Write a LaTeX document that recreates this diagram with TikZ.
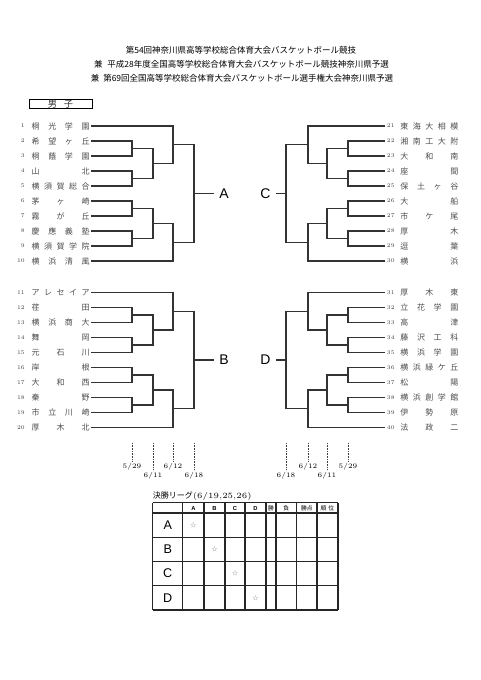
\documentclass[tikz,border=0pt]{standalone}
\usepackage{fontspec}
\usepackage{tikz}
\usetikzlibrary{calc, positioning}
\newfontfamily\jp{Noto Sans CJK JP}
\newfontfamily\arial{Liberation Sans}
\tikzstyle{bracket}=[line width=0.65pt, black!80]
\tikzstyle{teamL}=[anchor=east, inner xsep=0.5pt, inner ysep=0pt, text=black!70, font=\jp\fontsize{4}{4}\selectfont]
\tikzstyle{teamR}=[anchor=west, inner xsep=0pt, inner ysep=0pt, text=black!70, font=\jp\fontsize{4}{4}\selectfont]
\tikzstyle{num}=[inner xsep=1pt, inner ysep=0pt, text=black!75, font=\fontsize{2.8}{3}\selectfont]
\tikzstyle{pool}=[inner xsep=2.5pt, inner ysep=0pt, font=\arial\fontsize{7}{7}\selectfont]
\tikzstyle{title}=[inner sep=0pt, font=\jp\fontsize{4.25}{5}\selectfont]
\tikzstyle{dateline}=[black!75, line width=0.4pt, dash pattern=on 0.5pt off 0.3pt]
\tikzstyle{date}=[inner sep=1pt, font=\fontsize{3.4}{4}\selectfont]
\tikzstyle{rule}=[line width=0.55pt, black!85]
\tikzstyle{head}=[inner sep=0pt, font=\arial\bfseries\fontsize{2.9}{3}\selectfont]
\tikzstyle{headjp}=[inner sep=0pt, font=\jp\fontsize{2.9}{3}\selectfont]
\tikzstyle{rowlab}=[inner sep=0pt, font=\arial\fontsize{6.3}{7}\selectfont]
\tikzstyle{star}=[inner sep=0pt, text=black!50, font=\jp\fontsize{3}{3}\selectfont]
% spread the letters of a school name over the whole box
\newcommand{\spread}[1]{\hbox to 29pt{\expandafter\spreadA#1\relax}}
\def\spreadA#1{#1\spreadB}
\def\spreadB#1{\ifx#1\relax\else\hfill#1\expandafter\spreadB\fi}
% one game: #1 and #2 meet in column #3, winner at #4
\newcommand{\bout}[4]{
    \coordinate (#4m) at ($(#1)!.5!(#2)$);
    \coordinate (#4) at (#4m -| #3);
    \draw[bracket] (#1) -| (#4) |- (#2);
}
% one block of ten teams from team #1, columns #2a..#2d, block winner #3
\newcommand{\block}[3]{
    \foreach \k in {0,...,9} {
        \pgfmathtruncatemacro{\m}{#1+\k}
        \coordinate (q\k) at (e\m);
    }
    \bout{q1}{q2}{#2a}{q12}
    \bout{q3}{q4}{#2a}{q34}
    \bout{q12}{q34}{#2b}{q14}
    \bout{q0}{q14}{#2c}{qU}
    \bout{q5}{q6}{#2a}{q56}
    \bout{q7}{q8}{#2a}{q78}
    \bout{q56}{q78}{#2b}{q58}
    \bout{q58}{q9}{#2c}{qL}
    \bout{qU}{qL}{#2d}{#3}
}
\begin{document}
\begin{tikzpicture}[x=0.5pt, y=-0.5pt]
    \useasboundingbox (0,0) rectangle (481,680);

    % Title
    \node[title] (ttl1) at (241,50.5) {第54回神奈川県高等学校総合体育大会バスケットボール競技};
    \node[title] (ttl2) at (241.5,64.5) {兼\hspace{2.3pt}平成28年度全国高等学校総合体育大会バスケットボール競技神奈川県予選};
    \node[title] (ttl3) at (242,78) {兼\hspace{2pt}第69回全国高等学校総合体育大会バスケットボール選手権大会神奈川県予選};

    % Boys
    \node[draw, line width=0.5pt, minimum width=31.5pt, minimum height=4.8pt, inner sep=0pt, text=black!80, font=\jp\fontsize{4.6}{5}\selectfont] (boys) at (60.5,104) {男\hspace{3.5pt}子};

    % Columns
    \coordinate (La) at (132,0); \coordinate (Lb) at (153,0);
    \coordinate (Lc) at (173,0); \coordinate (Ld) at (194,0);
    \coordinate (Ra) at (348,0); \coordinate (Rb) at (327,0);
    \coordinate (Rc) at (308,0); \coordinate (Rd) at (286,0);

    % Teams, left side
    \foreach \n/\s in {1/桐光学園, 2/希望ヶ丘, 3/桐蔭学園, 4/山北, 5/横須賀総合,
        6/茅ヶ崎, 7/霧が丘, 8/慶應義塾, 9/横須賀学院, 10/横浜清風,
        11/アレセイア, 12/荏田, 13/横浜商大, 14/舞岡, 15/元石川,
        16/岸根, 17/大和西, 18/秦野, 19/市立川崎, 20/厚木北} {
        \pgfmathsetmacro{\yy}{\n<11 ? 126+15*(\n-1) : 292.5+15*(\n-11)}
        \node[teamL] (t\n) at (91,\yy) {\spread{\s}};
        \node[num, left=1.5pt of t\n] (n\n) {\n};
        \coordinate (e\n) at (t\n.east);
    }

    % Teams, right side
    \foreach \n/\s in {21/東海大相模, 22/湘南工大附, 23/大和南, 24/座間, 25/保土ヶ谷,
        26/大船, 27/市ケ尾, 28/厚木, 29/逗葉, 30/横浜,
        31/厚木東, 32/立花学園, 33/高津, 34/藤沢工科, 35/横浜学園,
        36/横浜緑ケ丘, 37/松陽, 38/横浜創学館, 39/伊勢原, 40/法政二} {
        \pgfmathsetmacro{\yy}{\n<31 ? 126+15*(\n-21) : 292.5+15*(\n-31)}
        \node[teamR] (t\n) at (400,\yy) {\spread{\s}};
        \node[num, left=1.5pt of t\n] (n\n) {\n};
        \coordinate (e\n) at (n\n.west);
    }

    % Brackets
    \block{1}{L}{jA}
    \block{11}{L}{jB}
    \block{21}{R}{jC}
    \block{31}{R}{jD}

    % Block winners
    \node[pool, right=10pt of jA] (A) {A};
    \node[pool, right=10pt of jB] (B) {B};
    \node[pool, left=5pt of jC] (C) {C};
    \node[pool, left=5pt of jD] (D) {D};
    \foreach \p in {A,B,C,D} \draw[bracket] (j\p) -- (\p);

    % Dates of the rounds
    \foreach \x/\yy/\d [count=\i] in {132/467/{5/29}, 153/476/{6/11}, 173/467/{6/12}, 194/476/{6/18},
        286/476/{6/18}, 308/467/{6/12}, 327/476/{6/11}, 348/467/{5/29}} {
        \coordinate (dtop\i) at (\x,443);
        \node[date] (d\i) at (\x,\yy) {\d};
        \draw[dateline] (dtop\i) -- (d\i);
    }

    % Final league
    \node[anchor=west, inner sep=0pt, font=\fontsize{4}{4}\selectfont] (lg) at (152.5,496) {{\jp 決勝リーグ}(6/19,25,26)};
    \foreach \x in {152.7,182.7,204,225,245,266,276,296.7,317,338}
        \draw[rule] (\x,502.7) -- (\x,610);
    \foreach \yy in {502.7,513,537.25,561.5,585.75,610}
        \draw[rule] (152.7,\yy) -- (338,\yy);
    \foreach \t/\x in {A/193.35, B/214.5, C/235, D/255.5}
        \node[head] (h\t) at (\x,508) {\t};
    \node[headjp] (hwin) at (271,508) {勝};
    \node[headjp] (hloss) at (286.35,508) {負};
    \node[headjp] (hpts) at (306.85,508) {勝点};
    \node[headjp] (hrank) at (327.5,508) {順\hspace{1pt}位};
    \foreach \t/\x [count=\i] in {A/193.35, B/214.5, C/235, D/255.5} {
        \pgfmathsetmacro{\yy}{513+24.25*(\i-0.5)}
        \node[rowlab] (r\t) at (167.7,\yy) {\t};
        \node[star] (s\t) at (\x,\yy) {☆};
    }
\end{tikzpicture}
\end{document}
